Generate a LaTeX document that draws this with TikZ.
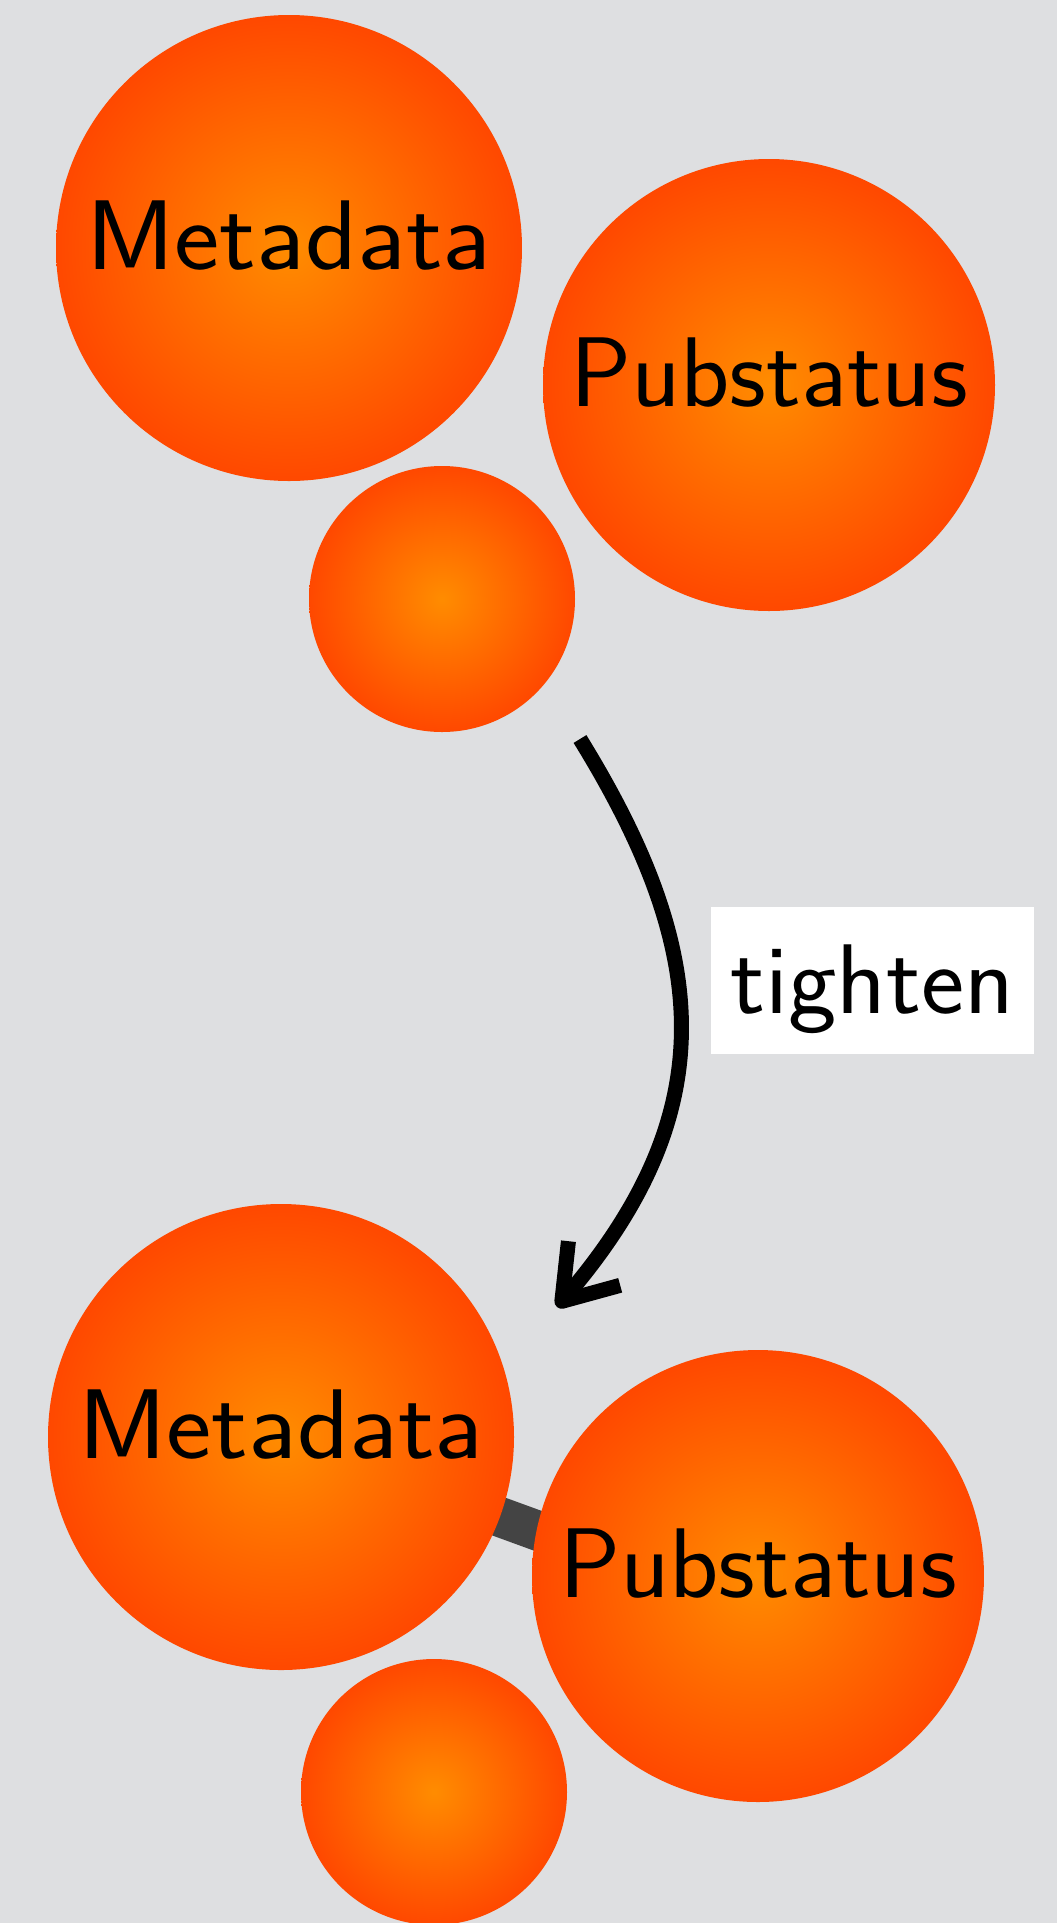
\documentclass[tikz,border=0pt]{standalone}
\usetikzlibrary{arrows.meta,backgrounds}
\definecolor{bggrey}{RGB}{222,223,225}
\definecolor{ballin}{RGB}{255,140,0}
\definecolor{ballout}{RGB}{255,72,0}
\definecolor{bargrey}{RGB}{68,68,68}
\newcommand{\wtext}[2]{\scalebox{#1}[1]{#2}}
\begin{document}
\begin{tikzpicture}[x=1pt,y=1pt,
  ball/.style={circle, inner sep=0pt, minimum size=#1, inner color=ballin, outer color=ballout,
    font=\fontsize{99}{100}\selectfont\sffamily, text height=42pt, text depth=0pt},
  tagbox/.style={fill=white, minimum width=323pt, minimum height=147pt, inner sep=0pt,
    font=\fontsize{99}{100}\selectfont\sffamily, text height=65pt, text depth=0pt},
  linkbar/.style={line width=40pt, draw=bargrey},
  bigarrow/.style={line width=15pt, -{Straight Barb[length=50pt,width=68pt,line join=round]}}]
\begin{scope}[on background layer]
\fill[bggrey] (0,0) rectangle (1057,-1923);
\end{scope}
\useasboundingbox (0,0) rectangle (1057,-1923);
% top group
\node[ball=466pt] (m1) at (289,-248) {\wtext{1.09}{Metadata}};
\node[ball=452pt] (p1) at (769,-385) {\wtext{1.03}{Pubstatus}};
\node[ball=266pt] (s1) at (442,-599) {};
% bottom group
\node[ball=466pt] (m2) at (281,-1437) {\wtext{1.09}{Metadata}};
\node[ball=452pt] (p2) at (758,-1576) {\wtext{1.03}{Pubstatus}};
\node[ball=266pt] (s2) at (434,-1792) {};
\coordinate (q) at (700,-1590);
\begin{scope}[on background layer]
\draw[linkbar] (m2.center) -- (q);
\end{scope}
% arrow
\coordinate (a1) at (580,-739);
\coordinate (a2) at (557,-1307);
\draw[bigarrow] (a1) .. controls (710,-950) and (725,-1110) .. (a2);
\node[tagbox] (lbl) at (872.5,-980.5) {\wtext{1.04}{tighten}};
\end{tikzpicture}
\end{document}
